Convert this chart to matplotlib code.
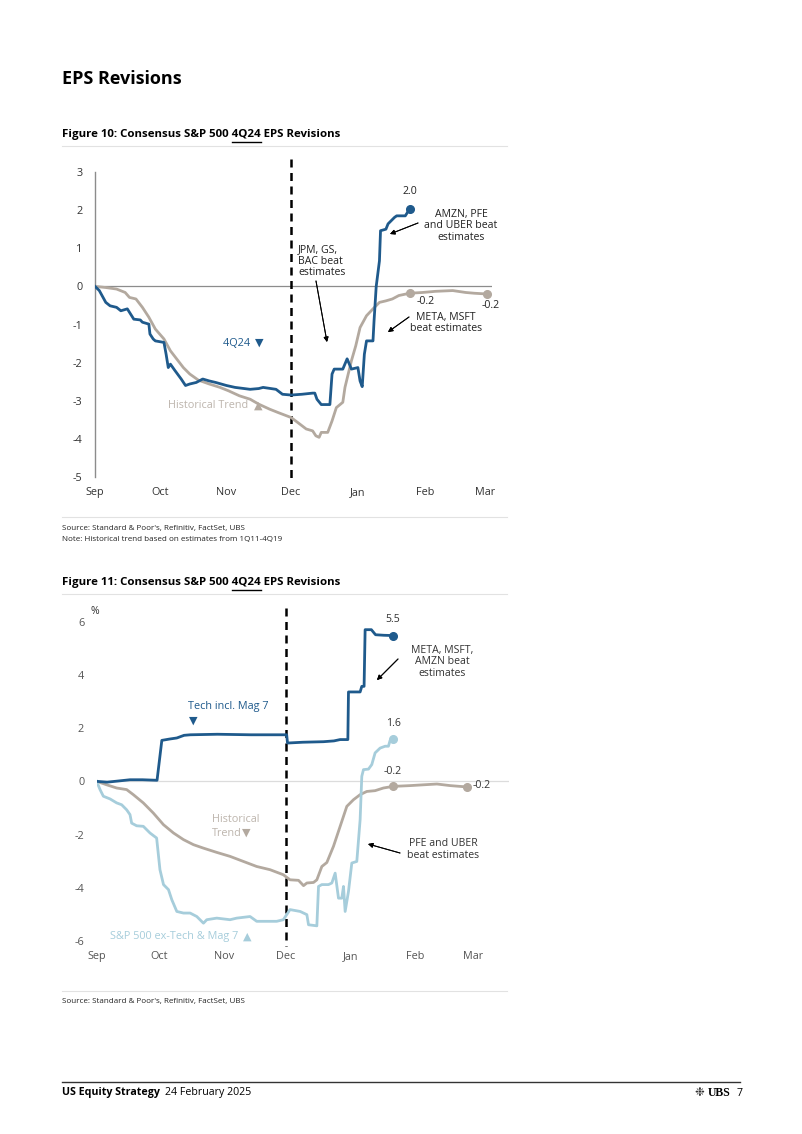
import matplotlib
matplotlib.use("Agg")
import matplotlib.pyplot as plt
from matplotlib.lines import Line2D

W, H = 802, 1134

months = ["Sep", "Oct", "Nov", "Dec", "Jan", "Feb", "Mar"]
month_days = [0, 30, 61, 91, 122, 153, 181]
dec_day = 91

# Figure 10: days since 1 Sep, revision in %
f10_days = [0, 2, 5, 7, 10, 12, 15, 17, 18, 21, 22, 25, 25.5, 27, 28, 32, 33, 34, 35, 37,
            40, 42, 44, 47, 50, 53, 56, 61, 65, 72, 76, 78, 84, 87, 91, 96, 101, 102, 103, 105,
            109, 110, 111, 115, 117, 119, 122, 123, 124, 125, 126, 129, 129.5, 130.5, 132, 132.5,
            135, 136, 139, 140, 144, 146]
f10_vals = [0, -0.11, -0.42, -0.51, -0.55, -0.64, -0.59, -0.77, -0.86, -0.88, -0.94, -0.99, -1.25,
            -1.38, -1.43, -1.47, -1.78, -2.13, -2.04, -2.2, -2.43, -2.6, -2.56, -2.52, -2.43, -2.48,
            -2.52, -2.6, -2.65, -2.7, -2.68, -2.65, -2.7, -2.83, -2.85, -2.83, -2.8, -2.8, -2.96,
            -3.1, -3.1, -2.3, -2.17, -2.17, -1.9, -2.17, -2.13, -2.48, -2.63, -1.78, -1.43, -1.43,
            -0.9, 0, 0.67, 1.46, 1.5, 1.64, 1.81, 1.85, 1.85, 2.03]
f10_hist_days = [0, 5, 10, 14, 16, 19, 22, 25, 28, 32, 35, 38, 41, 44, 48, 53, 58, 62, 67, 72, 76,
                 81, 85, 91, 95, 98, 101, 102.5, 104, 105, 108, 110, 112, 115, 116, 119, 121, 123,
                 126, 129, 132, 135, 138, 141, 146, 152, 158, 166, 172, 176, 182]
f10_hist_vals = [0, -0.03, -0.07, -0.16, -0.29, -0.33, -0.55, -0.81, -1.12, -1.38, -1.69, -1.91,
                 -2.13, -2.3, -2.46, -2.56, -2.65, -2.74, -2.87, -2.96, -3.09, -3.22, -3.31, -3.44,
                 -3.61, -3.74, -3.79, -3.92, -3.96, -3.83, -3.83, -3.53, -3.18, -3.04, -2.65, -1.95,
                 -1.56, -1.08, -0.77, -0.59, -0.42, -0.38, -0.33, -0.24, -0.18, -0.16, -0.13, -0.11,
                 -0.16, -0.18, -0.2]

# Figure 11
f11_tech_days = [0, 5, 10, 16, 22, 29, 31.3, 35, 38.5, 42, 45, 58, 74, 90, 91.3, 91.7, 99, 109,
                 114, 117, 120.7, 121, 126.6, 127.4, 128.5, 129, 132, 134, 138, 142.3]
f11_tech_vals = [0, -0.03, 0.01, 0.06, 0.06, 0.04, 1.54, 1.59, 1.63, 1.73, 1.75, 1.77, 1.75, 1.75,
                 1.75, 1.44, 1.47, 1.49, 1.52, 1.57, 1.57, 3.36, 3.36, 3.57, 3.57, 5.7, 5.7, 5.51,
                 5.49, 5.48]
f11_ex_days = [0, 1.6, 3.2, 6.4, 9.6, 12, 14.4, 16, 16.8, 19.2, 22.4, 25.6, 28.8, 30.4, 32.1, 34.5,
               36.1, 38.5, 41.7, 44.9, 48.1, 51.3, 52.9, 57.7, 64.1, 67.3, 73.7, 76.9, 86.5, 89.7,
               92.9, 97.8, 101, 101.8, 105.8, 106.6, 108.2, 111.4, 113, 114.6, 116.2, 117.8, 118.6,
               119.4, 121, 122.6, 125, 126.6, 127.4, 128.2, 130.6, 132.2, 133.8, 136.2, 138.6,
               140.2, 141, 142.3]
f11_ex_vals = [0, -0.31, -0.56, -0.66, -0.81, -0.88, -1.07, -1.25, -1.57, -1.67, -1.69, -1.94,
               -2.13, -3.32, -3.88, -4.07, -4.45, -4.89, -4.95, -4.95, -5.08, -5.33, -5.2, -5.14,
               -5.2, -5.14, -5.08, -5.26, -5.26, -5.2, -4.82, -4.89, -5.01, -5.39, -5.43, -3.95,
               -3.88, -3.88, -3.82, -3.45, -4.39, -4.39, -3.95, -4.89, -4.14, -3.07, -3.01, -1.44,
               0.19, 0.44, 0.46, 0.63, 1.07, 1.25, 1.32, 1.32, 1.54, 1.6]
f11_hist_days = [0, 4.8, 9.6, 14.4, 17.6, 22.4, 27.2, 32.1, 36.9, 41.7, 46.5, 51.3, 57.7, 64.1,
                 70.5, 76.9, 83.3, 89.7, 92.9, 97, 99.4, 101, 104.2, 105.8, 108.2, 110.6, 113.8,
                 117, 120.2, 123.4, 126.6, 129.8, 133.8, 137.8, 142.3, 150.6, 157, 163.5, 169.9,
                 177.9]
f11_hist_vals = [0, -0.13, -0.25, -0.31, -0.5, -0.81, -1.19, -1.63, -1.94, -2.19, -2.38, -2.51,
                 -2.67, -2.82, -3.01, -3.2, -3.32, -3.51, -3.7, -3.72, -3.92, -3.82, -3.8, -3.7,
                 -3.2, -3.05, -2.44, -1.69, -0.94, -0.69, -0.5, -0.38, -0.35, -0.25, -0.19, -0.16,
                 -0.13, -0.1, -0.16, -0.21]

BLUE = "#1f5a8c"
GREY = "#b3a99f"
LIGHT = "#a6cddb"
HIST_TXT = "#bdb5ad"
TRI = 8  # size of the little label triangles

plt.rcParams['font.family'] = ['Open Sans', 'DejaVu Sans']
plt.rcParams['axes.unicode_minus'] = False

fig = plt.figure(figsize=(W / 100, H / 100), dpi=100)
renderer = fig.canvas.get_renderer()


def px(x, y):
    # page pixel -> figure fraction
    return (x / W, 1 - y / H)


def hline(x0, x1, y, color, lw):
    fig.add_artist(Line2D([x0 / W, x1 / W], [1 - y / H, 1 - y / H], color=color, lw=lw))


def text_width(s, **kw):
    t = fig.text(0, 0, s, **kw)
    w = t.get_window_extent(renderer=renderer).width
    t.remove()
    return w


def figure_title(y, num):
    full = f"Figure {num}: Consensus S&P 500 4Q24 EPS Revisions"
    kw = dict(fontsize=8.25, fontweight='bold', color='black')
    fig.text(*px(62, y), full, va='center', ha='left', **kw)
    w_to = text_width(f"Figure {num}: Consensus S&P 500 4Q24", **kw)
    w_word = text_width("4Q24", **kw)
    hline(62 + w_to - w_word, 62 + w_to, y + 8, 'black', 1.0)


def arrow(x0, y0, x1, y1):
    fig.add_artist(plt.annotate("", xy=px(x1, y1), xytext=px(x0, y0), xycoords='figure fraction',
                                textcoords='figure fraction',
                                arrowprops=dict(arrowstyle='-|>', color='black', lw=0.7,
                                                mutation_scale=7, shrinkA=0, shrinkB=0)))


def triangle(x, y, sym, color, ha='center'):
    fig.text(*px(x, y), sym, ha=ha, va='center', fontsize=TRI, color=color,
             family=['DejaVu Sans'])


def style_axes(ax, xmax, show_left, tick_color):
    ax.set_xlim(0, xmax)
    for s in ['top', 'right', 'bottom']:
        ax.spines[s].set_visible(False)
    ax.spines['left'].set_visible(show_left)
    ax.spines['left'].set_color('#8c8c8c')
    ax.spines['left'].set_linewidth(1.0)
    ax.set_xticks(month_days)
    ax.set_xticklabels(months)
    ax.tick_params(axis='both', length=0, labelsize=7.8, colors=tick_color)
    ax.tick_params(axis='x', pad=7)
    ax.tick_params(axis='y', pad=9)
    ax.patch.set_alpha(0)


# page heading
fig.text(*px(62, 79), "EPS Revisions", fontsize=13, fontweight='bold', va='center', ha='left')

# ---------------- Figure 10 ----------------
figure_title(134, 10)
hline(62, 507, 146, '#e2e2e2', 0.8)

ax1 = fig.add_axes([95 / W, 1 - 477 / H, 396.5 / W, 305 / H])
ax1.set_ylim(-5, 3)
ax1.set_yticks(range(-5, 4))
style_axes(ax1, 184, True, '#333333')
ax1.axhline(0, color='#8c8c8c', lw=0.9, zorder=1)
ax1.plot([dec_day, dec_day], [3.35, -5.17], color='black', lw=1.8, ls=(0, (3.2, 2.2)),
         clip_on=False, zorder=2)
ax1.plot(f10_hist_days, f10_hist_vals, color=GREY, lw=2.0, zorder=3)
ax1.plot(f10_days, f10_vals, color=BLUE, lw=2.0, zorder=4)
ax1.plot(f10_days[-1], f10_vals[-1], 'o', color=BLUE, ms=5.5, zorder=5)
ax1.plot([f10_hist_days[-7], f10_hist_days[-1]], [f10_hist_vals[-7], f10_hist_vals[-1]], 'o',
         color=GREY, ms=5.5, zorder=5)

ann = dict(fontsize=7.6, color='#222222')
fig.text(*px(410, 192), "2.0", ha='center', va='center', **ann)
fig.text(*px(461, 226), "AMZN, PFE\nand UBER beat\nestimates", ha='center', va='center',
         linespacing=1.05, **ann)
arrow(418, 223, 390, 234)
fig.text(*px(298, 261), "JPM, GS,\nBAC beat\nestimates", ha='left', va='center',
         linespacing=1.05, **ann)
arrow(316, 281, 327, 342)
fig.text(*px(446, 323), "META, MSFT\nbeat estimates", ha='center', va='center',
         linespacing=1.05, **ann)
arrow(409, 317, 388, 332)
fig.text(*px(426, 302), "-0.2", ha='center', va='center', **ann)
fig.text(*px(491, 305), "-0.2", ha='center', va='center', **ann)
fig.text(*px(253, 343), "4Q24 ", ha='right', va='center', fontsize=7.8, color=BLUE)
triangle(259, 343, "\u25BC", BLUE)
fig.text(*px(251, 406), "Historical Trend ", ha='right', va='center', fontsize=7.8,
         color=HIST_TXT)
triangle(258, 406, "\u25B2", GREY)

hline(62, 507, 517, '#e2e2e2', 0.8)
src = dict(fontsize=5.8, color='#222222', ha='left', va='center')
fig.text(*px(62, 529), "Source: Standard & Poor's, Refinitiv, FactSet, UBS", **src)
fig.text(*px(62, 540), "Note: Historical trend based on estimates from 1Q11-4Q19", **src)

# ---------------- Figure 11 ----------------
figure_title(582, 11)
hline(62, 507, 594, '#e2e2e2', 0.8)

ax2 = fig.add_axes([96.7 / W, 1 - 941 / H, 412 / W, 319.3 / H])
ax2.set_ylim(-6, 6)
ax2.set_yticks(range(-6, 7, 2))
style_axes(ax2, 198, False, '#555555')
ax2.axhline(0, color='#dcdcdc', lw=0.9, zorder=1)
ax2.plot([dec_day, dec_day], [6.5, -6.2], color='black', lw=1.8, ls=(0, (3.2, 2.2)),
         clip_on=False, zorder=2)
ax2.plot(f11_hist_days, f11_hist_vals, color=GREY, lw=2.0, zorder=3)
ax2.plot(f11_ex_days, f11_ex_vals, color=LIGHT, lw=2.0, zorder=3)
ax2.plot(f11_tech_days, f11_tech_vals, color=BLUE, lw=2.0, zorder=4)
ax2.plot(f11_tech_days[-1], f11_tech_vals[-1], 'o', color=BLUE, ms=5.5, zorder=5)
ax2.plot(f11_ex_days[-1], f11_ex_vals[-1], 'o', color=LIGHT, ms=5.5, zorder=5)
ax2.plot([f11_hist_days[-6], f11_hist_days[-1]], [f11_hist_vals[-6], f11_hist_vals[-1]], 'o',
         color=GREY, ms=5.5, zorder=5)

ann2 = dict(fontsize=7.6, color='#333333')
fig.text(*px(95, 611), "%", ha='center', va='center', fontsize=7.6, color='#333333')
fig.text(*px(393, 620), "5.5", ha='center', va='center', **ann2)
fig.text(*px(442, 662), "META, MSFT,\nAMZN beat\nestimates", ha='center', va='center',
         linespacing=1.05, **ann2)
arrow(398, 659, 377, 680)
fig.text(*px(228, 707), "Tech incl. Mag 7", ha='center', va='center', fontsize=7.8, color=BLUE)
triangle(193, 721, "\u25BC", BLUE)
fig.text(*px(393, 723), "1.6", ha='center', va='center', **ann2)
fig.text(*px(393, 771), "-0.2", ha='center', va='center', **ann2)
fig.text(*px(473, 785), "-0.2", ha='left', va='center', **ann2)
fig.text(*px(212, 820), "Historical", ha='left', va='center', fontsize=7.8, color=HIST_TXT)
fig.text(*px(212, 833), "Trend", ha='left', va='center', fontsize=7.8, color=HIST_TXT)
w_trend = text_width("Trend", fontsize=7.8)
triangle(212 + w_trend, 833, "\u25BC", GREY, ha='left')
fig.text(*px(443, 849.5), "PFE and UBER\nbeat estimates", ha='center', va='center',
         linespacing=1.05, **ann2)
arrow(400, 853, 368, 844)
fig.text(*px(241, 937), "S&P 500 ex-Tech & Mag 7 ", ha='right', va='center', fontsize=7.8,
         color=LIGHT)
triangle(247, 937, "\u25B2", LIGHT)

hline(62, 507, 991, '#e2e2e2', 0.8)
fig.text(*px(62, 1001), "Source: Standard & Poor's, Refinitiv, FactSet, UBS", **src)

# ---------------- footer ----------------
hline(62, 740, 1082, '#333333', 1.0)
foot_b = dict(fontsize=7.7, fontweight='bold')
fig.text(*px(62, 1093), "US Equity Strategy", ha='left', va='center', **foot_b)
wb = text_width("US Equity Strategy", **foot_b)
fig.text(*px(62 + wb + 5, 1093), "24 February 2025", ha='left', va='center', fontsize=7.7)
fig.text(*px(704, 1093), "\u2749", ha='right', va='center', fontsize=8.5, color='#333333',
         family=['DejaVu Sans'])
fig.text(*px(708, 1093), "UBS", ha='left', va='center', fontsize=8.5, fontweight='bold',
         family=['Liberation Serif'])
fig.text(*px(740, 1093), "7", ha='center', va='center', fontsize=7.7)

fig.savefig("out.png", dpi=100)
